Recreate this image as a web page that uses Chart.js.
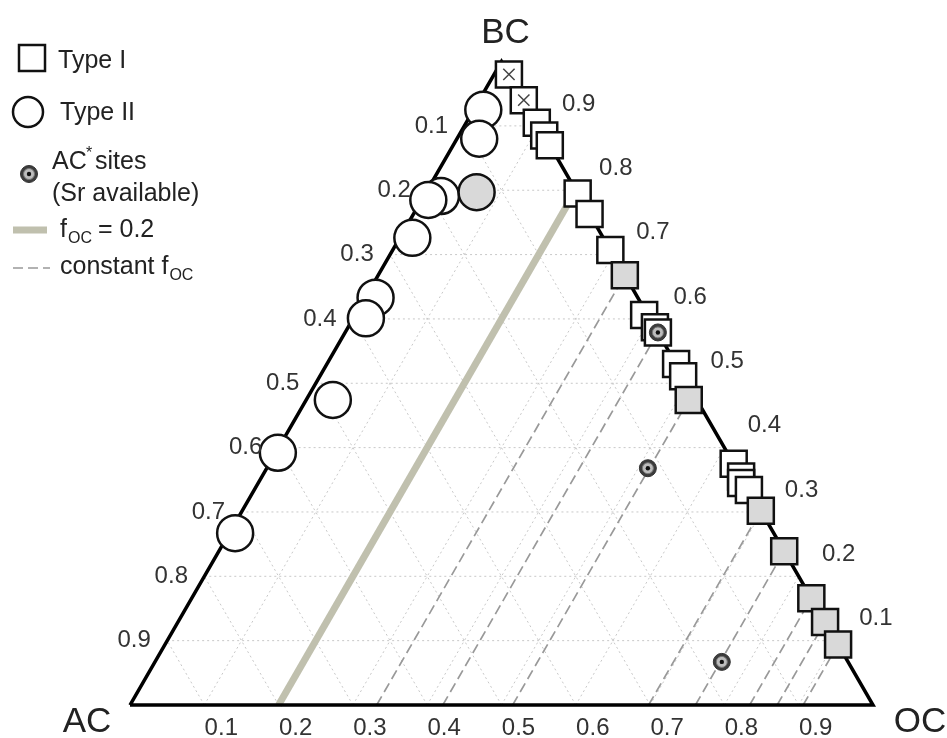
<!DOCTYPE html>
<html>
<head>
<meta charset="utf-8">
<script src="https://cdn.jsdelivr.net/npm/chart.js@4.4.0/dist/chart.umd.min.js"></script>
<style>
  html, body { margin: 0; padding: 0; background: #fff; }
  canvas { display: block; }
</style>
</head>
<body>
<canvas id="ternary" width="947" height="738"></canvas>
<script>
// Ternary data: fractions BC and OC (AC = 1 - BC - OC)
const typeI_BC = [0.98, 0.94, 0.905, 0.885, 0.87, 0.795, 0.763, 0.707, 0.668, 0.606, 0.587, 0.579, 0.53, 0.511, 0.474, 0.375, 0.355, 0.345, 0.334, 0.302, 0.239, 0.166, 0.129, 0.094];
const typeI_OC = [0.02, 0.06, 0.095, 0.115, 0.13, 0.205, 0.237, 0.293, 0.332, 0.389, 0.413, 0.421, 0.47, 0.489, 0.515, 0.625, 0.645, 0.65, 0.666, 0.698, 0.761, 0.834, 0.871, 0.906];
const typeI_gray = [0, 0, 0, 0, 0, 0, 0, 0, 1, 0, 0, 0, 0, 0, 1, 0, 0, 0, 0, 1, 1, 1, 1, 1];
const typeI_crossed = [0, 1];

const typeII_BC = [0.925, 0.88, 0.791, 0.785, 0.797, 0.726, 0.633, 0.601, 0.474, 0.392, 0.267];
const typeII_OC = [0.013, 0.03, 0.023, 0.009, 0.068, 0.017, 0.014, 0.017, 0.036, 0.003, 0.008];
const typeII_gray = [0, 0, 0, 0, 1, 0, 0, 0, 0, 0, 0];

const acStar_BC = [0.579, 0.368, 0.067];
const acStar_OC = [0.421, 0.513, 0.763];

const constFoc = [0.332, 0.421, 0.515, 0.698, 0.761, 0.834, 0.871, 0.906];
const focRef = 0.2;

const gridTicks = [0.1, 0.2, 0.3, 0.4, 0.5, 0.6, 0.7, 0.8, 0.9];
const tickLabels = ['0.1', '0.2', '0.3', '0.4', '0.5', '0.6', '0.7', '0.8', '0.9'];

const H = Math.sqrt(3) / 2;
const toXY = (bc, oc) => ({ x: oc + bc / 2, y: bc * H });

const GRAY = '#d9d9d9';
const BAND = '#c0c0ae';
const FONT = '"Liberation Sans", Arial, Helvetica, sans-serif';

// grid lines in the three directions
const gridSets = [];
gridTicks.forEach(k => {
    gridSets.push([toXY(k, 0), toXY(k, 1 - k)]);          // constant BC
    gridSets.push([toXY(0, k), toXY(1 - k, k)]);          // constant OC
    gridSets.push([toXY(0, 1 - k), toXY(1 - k, 0)]);      // constant AC
});

const lineSet = (data, extra) => Object.assign({
    data: data,
    showLine: true,
    pointRadius: 0,
    fill: false,
    clip: false
}, extra);

const datasets = [];

gridSets.forEach(seg => datasets.push(lineSet(seg, {
    borderColor: '#c8c8c8', borderWidth: 1, borderDash: [2, 3], order: 20
})));

constFoc.forEach(f => datasets.push(lineSet([toXY(0, f), toXY(1 - f, f)], {
    borderColor: '#999', borderWidth: 1.7, borderDash: [10, 5], order: 15
})));

datasets.push(lineSet([toXY(0, focRef), toXY(1 - focRef, focRef)], {
    borderColor: BAND, borderWidth: 7, order: 14
}));

datasets.push(lineSet([toXY(0, 0), toXY(1, 0), toXY(0, 1), toXY(0, 0)], {
    borderColor: '#000', borderWidth: 3.5, borderJoinStyle: 'miter', order: 12
}));

datasets.push({
    data: typeI_BC.map((b, i) => toXY(b, typeI_OC[i])),
    pointStyle: 'rect',
    pointRadius: 18.4,
    backgroundColor: typeI_gray.map(g => g ? GRAY : '#fff'),
    borderColor: '#111',
    borderWidth: 2.5,
    clip: false,
    order: 6
});

datasets.push({
    data: typeI_crossed.map(i => toXY(typeI_BC[i], typeI_OC[i])),
    pointStyle: 'crossRot',
    pointRadius: 8,
    borderColor: '#444',
    borderWidth: 1.5,
    clip: false,
    order: 5
});

datasets.push({
    data: typeII_BC.map((b, i) => toXY(b, typeII_OC[i])),
    pointStyle: 'circle',
    pointRadius: 18,
    backgroundColor: typeII_gray.map(g => g ? GRAY : '#fff'),
    borderColor: '#111',
    borderWidth: 2.5,
    clip: false,
    order: 4
});

// AC* site marker: dark disc, light dotted ring, dark centre
const acStarPts = acStar_BC.map((b, i) => toXY(b, acStar_OC[i]));
datasets.push({ data: acStarPts, pointStyle: 'circle', pointRadius: 8.5, backgroundColor: '#3c3c3c', borderColor: '#333', borderWidth: 1, clip: false, order: 3 });
datasets.push({ data: acStarPts, pointStyle: 'circle', pointRadius: 5.5, backgroundColor: '#bdbdbd', borderColor: '#777', borderWidth: 1, clip: false, order: 2 });
datasets.push({ data: acStarPts, pointStyle: 'circle', pointRadius: 2.2, backgroundColor: '#111', borderWidth: 0, clip: false, order: 1 });

// text with a small subscript right after it
const withSub = (ctx, text, sub, x, y, size) => {
    ctx.font = size + 'px ' + FONT;
    ctx.fillText(text, x, y);
    const w = ctx.measureText(text).width;
    ctx.font = Math.round(size * 0.62) + 'px ' + FONT;
    ctx.fillText(sub, x + w + 1, y + 9);
    return x + w + 1 + ctx.measureText(sub).width;
};

// text: tick labels, vertex names, legend
const textPlugin = {
    id: 'ternaryText',
    afterDraw(chart) {
        const ctx = chart.ctx;
        const sx = chart.scales.x, sy = chart.scales.y;
        const pos = (bc, oc) => {
            const p = toXY(bc, oc);
            return [sx.getPixelForValue(p.x), sy.getPixelForValue(p.y)];
        };
        ctx.save();
        ctx.fillStyle = '#333';
        ctx.textAlign = 'center';
        ctx.textBaseline = 'middle';
        ctx.font = '24px ' + FONT;
        gridTicks.forEach((k, i) => {
            let [x, y] = pos(0, k);
            ctx.fillText(tickLabels[i], x + 17, y + 23);
            [x, y] = pos(k, 1 - k);
            ctx.fillText(tickLabels[i], x + 40, y - 22);
            [x, y] = pos(1 - k, 0);
            ctx.fillText(tickLabels[i], x - 33, y);
        });

        ctx.fillStyle = '#222';
        ctx.font = '35px ' + FONT;
        let [x, y] = pos(1, 0);
        ctx.fillText('BC', x + 4, y - 28);
        [x, y] = pos(0, 0);
        ctx.fillText('AC', x - 43, y + 17);
        [x, y] = pos(0, 1);
        ctx.fillText('OC', x + 47, y + 17);

        // legend
        ctx.strokeStyle = '#111';
        ctx.lineWidth = 2.5;
        ctx.fillStyle = '#fff';
        ctx.fillRect(19, 45, 26, 26);
        ctx.strokeRect(19, 45, 26, 26);
        ctx.beginPath();
        ctx.arc(28, 112, 15, 0, Math.PI * 2);
        ctx.fill();
        ctx.stroke();

        ctx.lineWidth = 1;
        ctx.strokeStyle = '#333';
        ctx.fillStyle = '#3c3c3c';
        ctx.beginPath(); ctx.arc(29, 174, 8.5, 0, Math.PI * 2); ctx.fill(); ctx.stroke();
        ctx.fillStyle = '#bdbdbd';
        ctx.strokeStyle = '#777';
        ctx.beginPath(); ctx.arc(29, 174, 5.5, 0, Math.PI * 2); ctx.fill(); ctx.stroke();
        ctx.fillStyle = '#111';
        ctx.beginPath(); ctx.arc(29, 174, 2.2, 0, Math.PI * 2); ctx.fill();

        ctx.strokeStyle = BAND;
        ctx.lineWidth = 7;
        ctx.beginPath(); ctx.moveTo(13, 230); ctx.lineTo(47, 230); ctx.stroke();
        ctx.strokeStyle = '#999';
        ctx.lineWidth = 1.7;
        ctx.setLineDash([10, 5]);
        ctx.beginPath(); ctx.moveTo(13, 268); ctx.lineTo(50, 268); ctx.stroke();
        ctx.setLineDash([]);

        ctx.fillStyle = '#222';
        ctx.textAlign = 'left';
        ctx.font = '25px ' + FONT;
        ctx.fillText('Type I', 58, 61);
        ctx.fillText('Type II', 60, 113);
        ctx.fillText('AC', 52, 162);
        ctx.fillText('sites', 95, 162);
        ctx.fillText('(Sr available)', 52, 194);
        ctx.font = '16px ' + FONT;
        ctx.fillText('*', 86, 154);
        const xEnd = withSub(ctx, 'f', 'OC', 60, 230, 25);
        ctx.font = '25px ' + FONT;
        ctx.fillText('= 0.2', xEnd + 6, 230);
        withSub(ctx, 'constant f', 'OC', 60, 267, 25);
        ctx.restore();
    }
};

new Chart(document.getElementById('ternary'), {
    type: 'scatter',
    data: { datasets: datasets },
    options: {
        responsive: false,
        animation: false,
        devicePixelRatio: 1,
        layout: { padding: 0, autoPadding: false },
        plugins: {
            legend: { display: false },
            tooltip: { enabled: false }
        },
        scales: {
            x: { type: 'linear', display: false, min: -130 / 743, max: 817 / 743 },
            y: { type: 'linear', display: false, min: -33 / 743, max: 705 / 743 }
        }
    },
    plugins: [textPlugin]
});
</script>
</body>
</html>
